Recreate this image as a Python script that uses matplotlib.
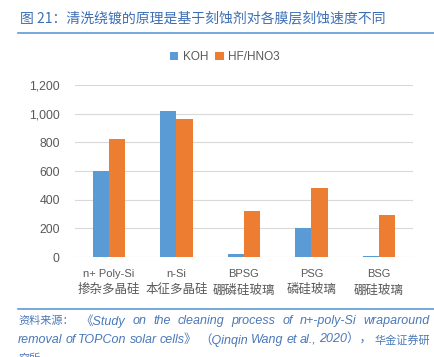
import numpy as np
import matplotlib.pyplot as plt
from matplotlib.lines import Line2D

plt.rcParams['font.family'] = ['Liberation Sans', 'Noto Sans CJK SC', 'DejaVu Sans']

# data
cats_en = ['n+ Poly-Si', 'n-Si', 'BPSG', 'PSG', 'BSG']
cats_zh = ['掺杂多晶硅', '本征多晶硅', '硼磷硅玻璃', '磷硅玻璃', '硼硅玻璃']
koh = [600, 1015, 18, 205, 8]
hf = [820, 960, 320, 480, 290]
series = ['KOH', 'HF/HNO3']
yticks = [0, 200, 400, 600, 800, 1000, 1200]

c_koh = '#5B9BD5'
c_hf = '#ED7D31'
c_blue = '#3C6EB4'
grey = '#595959'

fig = plt.figure(figsize=(4.34, 3.57), dpi=100)
ax = fig.add_axes([0.173, 0.280, 0.778, 0.482])

x = np.arange(len(cats_en))
w = 0.24
ax.bar(x - w / 2, koh, w, color=c_koh, label=series[0], zorder=3)
ax.bar(x + w / 2, hf, w, color=c_hf, label=series[1], zorder=3)

ax.set_xlim(-0.5, len(cats_en) - 0.5)
ax.set_ylim(0, 1200)
ax.set_yticks(yticks)
ax.set_yticklabels([f'{v:,}' for v in yticks], fontsize=8.8, color=grey)
ax.grid(axis='y', color='#D9D9D9', linewidth=0.8, zorder=0)
ax.tick_params(axis='y', length=0, pad=11)
ax.tick_params(axis='x', length=0)
ax.set_xticks(x)
ax.set_xticklabels([])
for s in ax.spines.values():
    s.set_visible(False)

trans = ax.get_xaxis_transform()
for i in range(len(cats_en)):
    ax.text(x[i], -0.10, cats_en[i], transform=trans, ha='center', va='center',
            fontsize=8, color=grey)
    ax.text(x[i], -0.19, cats_zh[i], transform=trans, ha='center', va='center',
            fontsize=9, color=grey, family=['Noto Sans CJK SC', 'DejaVu Sans'])

leg = fig.legend(loc='center', bbox_to_anchor=(225 / 434, 1 - 57 / 357), ncol=2,
                 frameon=False, fontsize=8.5, handlelength=0.7, handleheight=0.7,
                 handletextpad=0.4, columnspacing=0.6)
for t in leg.get_texts():
    t.set_color(grey)

# title
fig.text(20 / 434, 1 - 18 / 357, '图 21：清洗绕镀的原理是基于刻蚀剂对各膜层刻蚀速度不同',
         fontsize=10, color=c_blue, va='center', ha='left',
         family=['Noto Sans CJK SC', 'DejaVu Sans'])
fig.add_artist(Line2D([18 / 434, 1], [1 - 33 / 357] * 2, color='#5B9BD5', linewidth=1.2))
fig.add_artist(Line2D([18 / 434, 1], [1 - 309 / 357] * 2, color='#5B9BD5', linewidth=1.2))

# source, justified word by word
src = [['资料来源：', '《Study', 'on', 'the', 'cleaning', 'process', 'of', 'n+-poly-Si', 'wraparound'],
       ['removal', 'of', 'TOPCon', 'solar', 'cells》', '（Qinqin', 'Wang', 'et', 'al.,', '2020），', '华金证券研'],
       ['究所']]
cjk = {'资料来源：', '华金证券研', '究所'}
renderer = fig.canvas.get_renderer()
x0, x1 = 18, 430
for i, words in enumerate(src):
    y = 1 - (321 + i * 19) / 357
    arts = [fig.text(0, y, wd, fontsize=8 if wd in cjk else 9.0, color='#4A78B8',
                     style='italic', va='center', ha='left') for wd in words]
    widths = [a.get_window_extent(renderer).width for a in arts]
    gap = (x1 - x0 - sum(widths)) / (len(words) - 1) if len(words) > 1 else 0
    gap = max(gap, 1.5)
    pos = x0
    for a, wd in zip(arts, widths):
        a.set_x(pos / 434)
        pos += wd + gap

fig.savefig('out.png', dpi=100)
